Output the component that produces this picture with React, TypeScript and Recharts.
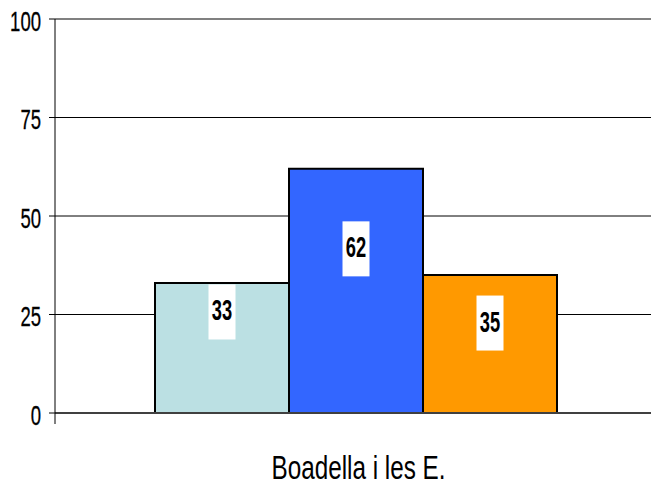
import React from "react";
import { BarChart, Bar, XAxis, YAxis, CartesianGrid, LabelList, ReferenceLine } from "recharts";

const categories = ["Boadella i les E."];
const seriesA = [33];
const seriesB = [62];
const seriesC = [35];
const yTicks = [0, 25, 50, 75, 100];

const data = categories.map((name, i) => ({
  name,
  a: seriesA[i],
  b: seriesB[i],
  c: seriesC[i],
}));

// per-series look; shift = label offset from bar centre (px)
const SERIES = [
  { key: "a", fill: "#BBE0E3", shift: -36 },
  { key: "b", fill: "#3366FF", shift: -42 },
  { key: "c", fill: "#FF9900", shift: -21 },
];

const FONT = "'Liberation Sans', Arial, sans-serif";

const YTick = ({ x, y, payload }: any) => {
  const s = String(payload.value);
  return (
    <text
      x={x}
      y={y + 11.5}
      textAnchor="end"
      fontFamily={FONT}
      fontSize={28}
      textLength={s.length * 10.3}
      lengthAdjust="spacingAndGlyphs"
      fill="#000"
      stroke="#000"
      strokeWidth={0.3}
    >
      {s}
    </text>
  );
};

const XTick = ({ x, y, payload }: any) => (
  <g>
    {/* category boundary tick under the value axis */}
    <line x1={55} x2={55} y1={y} y2={y + 11} stroke="#000" />
    <text
      x={x + 2}
      y={y + 66}
      textAnchor="middle"
      fontFamily={FONT}
      fontSize={33}
      textLength={174}
      lengthAdjust="spacingAndGlyphs"
      fill="#000"
    >
      {payload.value}
    </text>
  </g>
);

const makeLabel = (shift: number) => (props: any) => {
  const { x, y, width, height, value } = props;
  const cx = x + width / 2;
  const cy = y + height / 2 + shift;
  const s = String(value);
  return (
    <g>
      <rect x={cx - 13.5} y={cy - 27.5} width={27} height={55} fill="#fff" />
      <text
        x={cx}
        y={cy + 8.5}
        textAnchor="middle"
        fontFamily={FONT}
        fontWeight="bold"
        fontSize={30}
        textLength={s.length * 10.2}
        lengthAdjust="spacingAndGlyphs"
        fill="#000"
      >
        {s}
      </text>
    </g>
  );
};

export default function App() {
  return (
    <div
      style={{
        position: "absolute",
        left: 0,
        top: 0,
        width: 651,
        height: 485,
        overflow: "hidden",
        background: "#fff",
      }}
    >
      <BarChart
        width={660}
        height={485}
        data={data}
        margin={{ top: 19, right: 2, left: 0, bottom: 12 }}
        barCategoryGap={100}
        barGap={0}
      >
        <CartesianGrid horizontal vertical={false} stroke="#000" strokeWidth={1} />
        <ReferenceLine y={100} stroke="#808080" strokeWidth={2} />
        <XAxis
          dataKey="name"
          height={60}
          tickSize={0}
          tickMargin={0}
          tickLine={false}
          axisLine={{ stroke: "#404040", strokeWidth: 2 }}
          tick={<XTick />}
        />
        <YAxis
          width={55}
          domain={[0, 100]}
          ticks={yTicks}
          interval={0}
          tickSize={6}
          tickMargin={8}
          tickLine={{ stroke: "#000" }}
          axisLine={{ stroke: "#000" }}
          tick={<YTick />}
        />
        {SERIES.map((s) => (
          <Bar
            key={s.key}
            dataKey={s.key}
            fill={s.fill}
            stroke="#000"
            strokeWidth={2}
            isAnimationActive={false}
          >
            <LabelList dataKey={s.key} content={makeLabel(s.shift)} />
          </Bar>
        ))}
      </BarChart>
    </div>
  );
}
